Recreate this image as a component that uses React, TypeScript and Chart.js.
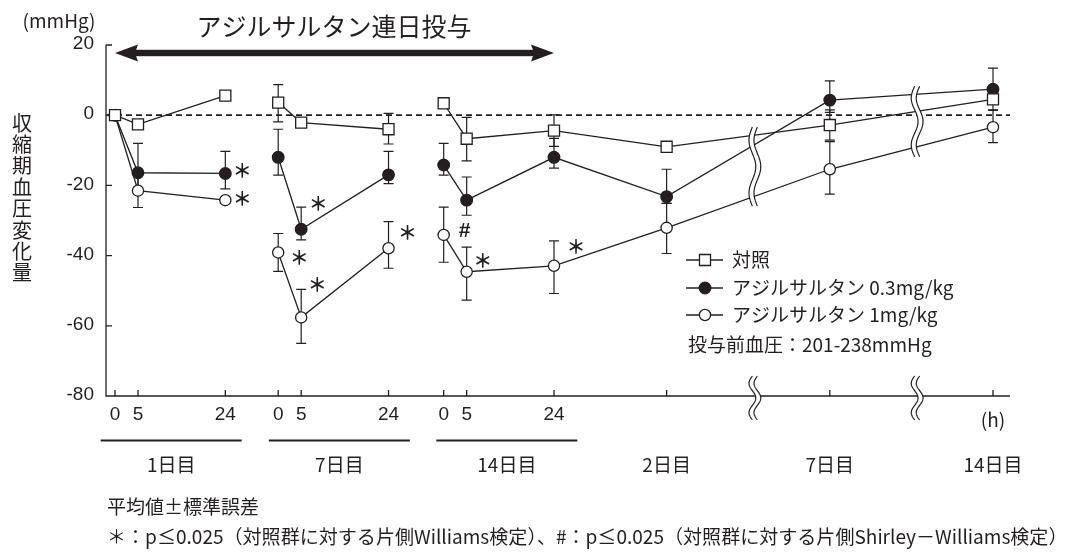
import React, { useEffect, useRef } from 'react';
import { Chart, registerables } from 'chart.js';

Chart.register(...registerables);

// ---------------- data ----------------
const timeLabels = ['0', '5', '24', '0', '5', '24', '0', '5', '24', '', '', ''];
// position of each time point on the (compressed) time axis
const timeAxisPositions = [0, 5, 24, 35.5, 40.5, 59.5, 71.5, 76.5, 95.5, 120, 155.5, 191];
// points with the same id are joined by lines
const lineSegments = [0, 0, 0, 1, 1, 1, 2, 2, 2, 2, 2, 2];
const dayLabels = ['1日目', '7日目', '14日目', '2日目', '7日目', '14日目'];
const dayGroups = [[0, 2], [3, 5], [6, 8], [9, 9], [10, 10], [11, 11]];
const underlinedGroups = [0, 1, 2];
const seriesNames = ['対照', 'アジルサルタン 0.3mg/kg', 'アジルサルタン 1mg/kg'];

const controlMean = [0, -2.6, 5.6, 3.6, -2.1, -4.0, 3.4, -6.7, -4.4, -9.0, -2.8, 4.5];
const controlErrUp = [0, 0, 0, 5.1, 0, 4.5, 0, 6.1, 4.5, 0, 4.3, 3.0];
const controlErrDown = [0, 0, 0, 5.5, 0, 4.2, 0, 6.3, 4.5, 0, 4.3, 3.1];

const lowDoseMean = [0, -16.4, -16.6, -12.0, -32.5, -17.0, -14.2, -24.2, -12.0, -23.2, 4.3, 7.4];
const lowDoseErrUp = [0, 8.4, 6.3, 8.0, 6.3, 6.7, 6.2, 6.6, 5.4, 7.8, 5.5, 6.0];
const lowDoseErrDown = [0, 5.0, 4.4, 5.1, 3.0, 2.5, 2.9, 4.3, 3.1, 1.9, 3.5, 3.0];

const highDoseMean = [0, -21.5, -24.2, -39.1, -57.6, -37.9, -34.1, -44.6, -42.9, -32.1, -15.4, -3.4];
const highDoseErrUp = [0, 4.8, 0, 5.4, 8.0, 7.6, 7.9, 7.0, 7.1, 7.0, 7.9, 4.9];
const highDoseErrDown = [0, 4.8, 0, 5.4, 7.4, 5.7, 7.8, 8.1, 7.9, 7.3, 7.1, 4.4];

const yTicks = [20, 0, -20, -40, -60, -80];
const axisBreaks = [139.2, 174.5];

// significance marks: [series, point index, symbol]
const sigSeries = [1, 2, 1, 2, 2, 2, 2, 2, 2];
const sigIndex = [2, 2, 4, 3, 4, 5, 6, 7, 8];
const sigText = ['＊', '＊', '＊', '＊', '＊', '＊', '#', '＊', '＊'];

const titleText = 'アジルサルタン連日投与';
const unitText = '(mmHg)';
const hourUnitText = '(h)';
const yAxisTitle = '収縮期血圧変化量';
const baselineNote = '投与前血圧：201-238mmHg';
const footnote1 = '平均値±標準誤差';
const footnote2 = '＊：p≤0.025（対照群に対する片側Williams検定）、#：p≤0.025（対照群に対する片側Shirley－Williams検定）';

// ---------------- styles ----------------
const INK = '#231f20';
const JP = '"Noto Sans CJK JP", "Noto Sans", sans-serif';
const LAT = '"Liberation Sans", "Noto Sans CJK JP", sans-serif';
const sigOffsets = [[17, -5], [17, -3], [17, -27], [21, 3], [16, -35], [19, -17], [21, -4], [16, -13], [22, -21]];

const seriesData = [
  { mean: controlMean, up: controlErrUp, down: controlErrDown, style: 'rect', fill: '#ffffff', r: 7.8 },
  { mean: lowDoseMean, up: lowDoseErrUp, down: lowDoseErrDown, style: 'circle', fill: INK, r: 5.8 },
  { mean: highDoseMean, up: highDoseErrUp, down: highDoseErrDown, style: 'circle', fill: '#ffffff', r: 5.6 },
];

function buildPoints(values: number[]) {
  const pts: { x: number; y: number | null }[] = [];
  values.forEach((v, i) => {
    pts.push({ x: timeAxisPositions[i], y: v });
    if (i < values.length - 1 && lineSegments[i + 1] !== lineSegments[i]) {
      pts.push({ x: (timeAxisPositions[i] + timeAxisPositions[i + 1]) / 2, y: null });
    }
  });
  return pts;
}

function wavePoints(xc: number, y0: number, y1: number, amp: number) {
  const pts: [number, number][] = [];
  const n = 60;
  for (let k = 0; k <= n; k++) {
    const t = k / n;
    pts.push([xc - amp * Math.sin(3 * Math.PI * t), y0 + t * (y1 - y0)]);
  }
  return pts;
}

function drawBreak(ctx: CanvasRenderingContext2D, xc: number, y0: number, y1: number) {
  const amp = 3.4;
  const gap = 5;
  const L = wavePoints(xc - gap / 2, y0, y1, amp);
  const R = wavePoints(xc + gap / 2, y0, y1, amp);
  ctx.save();
  ctx.beginPath();
  L.forEach((p, i) => (i ? ctx.lineTo(p[0], p[1]) : ctx.moveTo(p[0], p[1])));
  for (let i = R.length - 1; i >= 0; i--) ctx.lineTo(R[i][0], R[i][1]);
  ctx.closePath();
  ctx.fillStyle = '#ffffff';
  ctx.fill();
  ctx.strokeStyle = INK;
  ctx.lineWidth = 1.2;
  [L, R].forEach((P) => {
    ctx.beginPath();
    P.forEach((p, i) => (i ? ctx.lineTo(p[0], p[1]) : ctx.moveTo(p[0], p[1])));
    ctx.stroke();
  });
  ctx.restore();
}

function drawMarker(ctx: CanvasRenderingContext2D, style: string, x: number, y: number, r: number, fill: string) {
  ctx.save();
  ctx.fillStyle = fill;
  ctx.strokeStyle = INK;
  ctx.lineWidth = 1.3;
  ctx.beginPath();
  if (style === 'rect') {
    const h = r * Math.SQRT1_2;
    ctx.rect(x - h, y - h, 2 * h, 2 * h);
  } else {
    ctx.arc(x, y, r, 0, Math.PI * 2);
  }
  ctx.fill();
  ctx.stroke();
  ctx.restore();
}

function text(ctx: CanvasRenderingContext2D, s: string, x: number, y: number, font: string, align: CanvasTextAlign = 'left') {
  ctx.font = font;
  ctx.textAlign = align;
  ctx.textBaseline = 'middle';
  ctx.fillStyle = INK;
  ctx.fillText(s, x, y);
}

const decorPlugin = {
  id: 'decor',
  beforeDatasetsDraw(chart: any) {
    const { ctx, chartArea: a } = chart;
    const xs = chart.scales.x;
    const ys = chart.scales.y;
    ctx.save();
    ctx.strokeStyle = INK;

    // dashed zero line
    const y0 = ys.getPixelForValue(0);
    ctx.lineWidth = 1.8;
    ctx.setLineDash([6, 4]);
    ctx.beginPath();
    ctx.moveTo(a.left, y0);
    ctx.lineTo(a.right, y0);
    ctx.stroke();
    ctx.setLineDash([]);

    // error bars
    ctx.lineWidth = 1.2;
    seriesData.forEach((s) => {
      s.mean.forEach((v, i) => {
        const up = s.up[i];
        const dn = s.down[i];
        if (!up && !dn) return;
        const x = xs.getPixelForValue(timeAxisPositions[i]);
        const yT = ys.getPixelForValue(v + up);
        const yB = ys.getPixelForValue(v - dn);
        ctx.beginPath();
        ctx.moveTo(x, yT);
        ctx.lineTo(x, yB);
        if (up) { ctx.moveTo(x - 5, yT); ctx.lineTo(x + 5, yT); }
        if (dn) { ctx.moveTo(x - 5, yB); ctx.lineTo(x + 5, yB); }
        ctx.stroke();
      });
    });

    // axes
    ctx.lineWidth = 1.3;
    ctx.beginPath();
    ctx.moveTo(a.left, a.top);
    ctx.lineTo(a.left, a.bottom);
    ctx.lineTo(a.right, a.bottom);
    yTicks.forEach((t) => {
      if (t === yTicks[yTicks.length - 1]) return;
      const y = ys.getPixelForValue(t);
      ctx.moveTo(a.left, y);
      ctx.lineTo(a.left + 6, y);
    });
    timeAxisPositions.forEach((p) => {
      const x = xs.getPixelForValue(p);
      ctx.moveTo(x, a.bottom);
      ctx.lineTo(x, a.bottom - 6);
    });
    ctx.stroke();

    yTicks.forEach((t) => text(ctx, String(t), a.left - 12, ys.getPixelForValue(t) - 1, `19px ${LAT}`, 'right'));
    timeAxisPositions.forEach((p, i) => {
      if (timeLabels[i]) text(ctx, timeLabels[i], xs.getPixelForValue(p), a.bottom + 19, `19px ${LAT}`, 'center');
    });

    // day groups
    const shift = [1, 6, 8, 0, 0, 0];
    dayGroups.forEach((g, k) => {
      const x0 = xs.getPixelForValue(timeAxisPositions[g[0]]);
      const x1 = xs.getPixelForValue(timeAxisPositions[g[1]]);
      const cx = (x0 + x1) / 2 + shift[k];
      if (underlinedGroups.includes(k)) {
        ctx.lineWidth = 2.2;
        ctx.beginPath();
        ctx.moveTo(cx - 70.5, a.bottom + 44.5);
        ctx.lineTo(cx + 70.5, a.bottom + 44.5);
        ctx.stroke();
      }
      text(ctx, dayLabels[k], cx, a.bottom + 69, `19px ${JP}`, 'center');
    });
    text(ctx, hourUnitText, xs.getPixelForValue(timeAxisPositions[11]), a.bottom + 24, `19px ${JP}`, 'center');

    // unit, y-axis title
    text(ctx, unitText, 59, 21, `19px ${JP}`, 'center');
    Array.from(yAxisTitle).forEach((c, i) => text(ctx, c, 22, 123 + 21.4 * i, `20px ${JP}`, 'center'));

    // title + arrow
    const ax0 = xs.getPixelForValue(timeAxisPositions[0]);
    const ax1 = xs.getPixelForValue(timeAxisPositions[8]);
    text(ctx, titleText, 334, 26, `25px ${JP}`, 'center');
    const ay = 53;
    ctx.fillStyle = INK;
    ctx.fillRect(ax0 + 15, ay - 3.2, ax1 - ax0 - 30, 6.4);
    ctx.beginPath();
    ctx.moveTo(ax0, ay);
    ctx.lineTo(ax0 + 23, ay - 8.5);
    ctx.lineTo(ax0 + 20, ay);
    ctx.lineTo(ax0 + 23, ay + 8.5);
    ctx.closePath();
    ctx.moveTo(ax1, ay);
    ctx.lineTo(ax1 - 23, ay - 8.5);
    ctx.lineTo(ax1 - 20, ay);
    ctx.lineTo(ax1 - 23, ay + 8.5);
    ctx.closePath();
    ctx.fill();

    // footnotes
    text(ctx, footnote1, 107, 507, `19px ${JP}`);
    ctx.font = `19px ${JP}`;
    const w = ctx.measureText(footnote2).width;
    const fs = 19 * 961 / w;
    text(ctx, footnote2, 107, 537, `${fs.toFixed(2)}px ${JP}`);
    ctx.restore();
  },
  afterDatasetsDraw(chart: any) {
    const { ctx, chartArea: a } = chart;
    const xs = chart.scales.x;
    const ys = chart.scales.y;

    // break marks on data lines and axis
    axisBreaks.forEach((b) => {
      const bx = xs.getPixelForValue(b);
      const yPix: number[] = [];
      for (let i = 0; i < timeAxisPositions.length - 1; i++) {
        if (timeAxisPositions[i] <= b && b < timeAxisPositions[i + 1]) {
          const t = (b - timeAxisPositions[i]) / (timeAxisPositions[i + 1] - timeAxisPositions[i]);
          seriesData.forEach((s) => yPix.push(ys.getPixelForValue(s.mean[i] + t * (s.mean[i + 1] - s.mean[i]))));
        }
      }
      drawBreak(ctx, bx, Math.min(...yPix) - 8, Math.max(...yPix) + 10);
      drawBreak(ctx, bx, a.bottom - 20, a.bottom + 24);
    });

    // significance marks
    sigSeries.forEach((s, k) => {
      const i = sigIndex[k];
      const x = xs.getPixelForValue(timeAxisPositions[i]) + sigOffsets[k][0];
      const y = ys.getPixelForValue(seriesData[s].mean[i]) + sigOffsets[k][1];
      if (sigText[k] === '#') text(ctx, sigText[k], x, y, `bold 21px ${LAT}`, 'center');
      else text(ctx, sigText[k], x, y + 2, `bold 19px ${JP}`, 'center');
    });

    // legend
    const rows = [260, 288, 315];
    seriesData.forEach((s, k) => {
      ctx.save();
      ctx.strokeStyle = INK;
      ctx.lineWidth = 1.3;
      ctx.beginPath();
      ctx.moveTo(686, rows[k]);
      ctx.lineTo(723, rows[k]);
      ctx.stroke();
      ctx.restore();
      drawMarker(ctx, s.style, 705, rows[k], s.r, s.fill);
      text(ctx, seriesNames[k], 732, rows[k], `19px ${JP}`);
    });
    text(ctx, baselineNote, 688, 345, `19px ${JP}`);
  },
};

export default function App() {
  const ref = useRef<HTMLCanvasElement>(null);
  useEffect(() => {
    if (!ref.current) return;
    const mk = (k: number) => {
      const s = seriesData[k];
      return {
        label: seriesNames[k],
        data: buildPoints(s.mean),
        borderColor: INK,
        borderWidth: 1.3,
        pointStyle: s.style,
        pointRadius: s.r,
        pointBackgroundColor: s.fill,
        pointBorderColor: INK,
        pointBorderWidth: 1.3,
        spanGaps: false,
        fill: false,
        tension: 0,
      };
    };
    const chart = new Chart(ref.current, {
      type: 'line',
      data: { datasets: [mk(0), mk(1), mk(2)] as any },
      options: {
        responsive: true,
        maintainAspectRatio: false,
        animation: false,
        layout: { padding: { left: 106, right: 65, top: 45, bottom: 157 } },
        scales: {
          x: { type: 'linear', min: -1.96, max: 194.7, display: false },
          y: { min: -80, max: 20, display: false },
        },
        plugins: { legend: { display: false }, tooltip: { enabled: false } },
      },
      plugins: [decorPlugin],
    });
    return () => chart.destroy();
  }, []);
  return (
    <div style={{ position: 'fixed', left: 0, top: 0, width: 1075, height: 553, background: '#fff' }}>
      <canvas ref={ref} />
    </div>
  );
}
